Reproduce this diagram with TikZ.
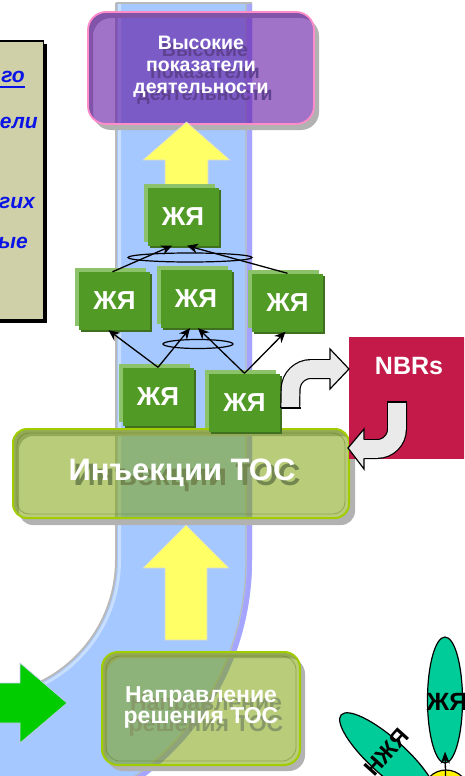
\documentclass[tikz,border=0pt]{standalone}
\usepackage{fontspec}
\setmainfont{Liberation Sans}
\usetikzlibrary{calc,shadows,arrows.meta,shapes.geometric}
\definecolor{pipe}{RGB}{164,200,255}
\definecolor{pipeedge}{RGB}{165,165,255}
\definecolor{purp}{RGB}{97,20,163}
\definecolor{pinkb}{RGB}{255,140,200}
\definecolor{purpshadow}{RGB}{95,65,145}
\definecolor{ljgreen}{RGB}{125,162,13}
\definecolor{ygreen}{RGB}{160,204,0}
\definecolor{injshadow}{RGB}{115,135,80}
\definecolor{dirshadow}{RGB}{135,152,105}
\definecolor{jgreen}{RGB}{82,154,38}
\definecolor{jlight}{RGB}{140,194,106}
\definecolor{jdark}{RGB}{62,112,32}
\definecolor{nbrc}{RGB}{196,26,74}
\definecolor{yarrow}{RGB}{255,255,102}
\definecolor{garrowc}{RGB}{234,234,234}
\definecolor{beige}{RGB}{208,208,168}
\definecolor{btext}{RGB}{10,20,230}
\definecolor{petal}{RGB}{0,204,153}
\definecolor{greenarr}{RGB}{0,204,0}
\tikzset{
  jbox/.style={fill=jgreen, text=white, font=\bfseries\fontsize{26}{28}\selectfont,
    inner sep=0, minimum width=71, minimum height=58,
    general shadow={fill=jlight, shadow xshift=-4pt, shadow yshift=4pt},
    general shadow={fill=jdark, shadow xshift=2pt, shadow yshift=-2pt}},
  tocbox/.style={draw=ygreen, line width=2, fill=ljgreen, fill opacity=0.55, inner sep=0},
  link/.style={-{Stealth[length=11pt,width=10pt]}, line width=1.3},
  bentband/.style={line width=1.2, double=garrowc, double distance=17.6, rounded corners=20},
  yarr/.style={fill=yarrow, draw=black!15, line width=0.6},
  paneltext/.style={text=btext, font=\bfseries\itshape\fontsize{21}{24}\selectfont, inner sep=0, anchor=base east},
  whitebig/.style={text=white, font=\bfseries\fontsize{31}{34}\selectfont},
}
\begin{document}
\begin{tikzpicture}[x=1pt, y=-1pt]
\useasboundingbox (0,0) rectangle (464,776);
\clip (0,0) rectangle (464,776);

% left panel
\fill[black] (-10,44) rectangle (47,323);
\filldraw[fill=beige, draw=black, line width=1.2] (-10,41) rectangle (43.5,320);
\node[paneltext] at (25,82) {го};
\draw[btext, line width=1.2] (0,87) -- (25,87);
\node[paneltext] at (38,128) {тели};
\node[paneltext] at (35,208) {угих};
\node[paneltext] at (28,248) {ые};

% pipe
\fill[pipe] (116,3) -- (116,560) .. controls (116,635.1) and (55.1,696) .. (-20,696)
  -- (-20,832) .. controls (130.2,832) and (252,710.2) .. (252,560) -- (252,3) -- cycle;
\draw[white, opacity=0.4, line width=3] (119.5,3) -- (119.5,560) .. controls (119.5,637) and (57,699.5) .. (-20,699.5);
\draw[gray!55, line width=2] (116,3) -- (116,560) .. controls (116,635.1) and (55.1,696) .. (-20,696);
\draw[pipeedge, line width=5] (249.5,3) -- (249.5,560) .. controls (249.5,708.8) and (128.8,829.5) .. (-20,829.5);
\draw[gray!55, line width=1.2] (246,3) -- (246,560) .. controls (246,706.9) and (126.9,826) .. (-20,826);
\draw[gray!55, line width=1.5] (116,3) -- (252,3);

% green arrow
\filldraw[fill=greenarr, draw=blue!20, line width=0.6] (-5,683) -- (20,683) -- (20,663) -- (67,703) -- (20,743) -- (20,723) -- (-5,723) -- cycle;

% top purple box
\fill[gray!60, even odd rule, rounded corners=18] (93,18) rectangle (319,130) (88,12) rectangle (314,124);
\node[draw=pinkb, line width=1.8, fill=purp, fill opacity=0.6, rounded corners=18,
  minimum width=226, minimum height=112, inner sep=0] (hi) at (201,68) {};
\node[text=purpshadow, font=\bfseries\fontsize{19.5}{22}\selectfont, align=center]
  at ($(hi.center)+(4,6)$) {Высокие\\показатели\\деятельности};
\node[text=white, font=\bfseries\fontsize{19.5}{22}\selectfont, align=center]
  at ($(hi.center)+(0,-1)$) {Высокие\\показатели\\деятельности};

% top yellow arrow
\filldraw[yarr] (165,192) -- (165,160) -- (143,160) -- (186.5,122) -- (230,160) -- (208,160) -- (208,192) -- cycle;

% injections box
\fill[gray!60, even odd rule, rounded corners=14] (19,436) rectangle (355,525) (13,429) rectangle (349,518);
\node[tocbox, rounded corners=14, minimum width=336, minimum height=89] (inj) at (181,473.5) {};
\draw[rounded corners=12, draw=ljgreen!60!black, opacity=0.35, line width=0.8] (17,433) rectangle (345,514);
\node[whitebig, text=injshadow, anchor=base] at (187,485) {Инъекции ТОС};
\node[whitebig, anchor=base] at (182,480) {Инъекции ТОС};

% NBRs
\node[fill=nbrc, minimum width=126, minimum height=122, anchor=north west, inner sep=0] (nbr) at (349,337) {};
\node[text=white, font=\bfseries\fontsize{25}{28}\selectfont, anchor=base] at (409,374) {NBRs};

% JY boxes
\node[jbox] (j1) at (183,216.5) {ЖЯ};
\node[jbox] (j2) at (114.5,301) {ЖЯ};
\node[jbox] (j3) at (196,299) {ЖЯ};
\node[jbox] (j4) at (287.5,302.5) {ЖЯ};
\node[jbox] (j5) at (158,396.5) {ЖЯ};
\node[jbox] (j6) at (244.5,402.5) {ЖЯ};

\draw[line width=1.2] (190,257.5) ellipse [x radius=62, y radius=4.5];
\draw[line width=1.2] (198,344) ellipse [x radius=35, y radius=4.5];
\draw[link] (j5.north) -- ([xshift=-6pt]j2.south);
\draw[link] (j5.north) -- ([xshift=-6pt]j3.south);
\draw[link] (j6.north) -- ([xshift=2pt]j3.south);
\draw[link] (j6.north) -- ([xshift=-2pt]j4.south);
\draw[link] ([xshift=-2pt]j2.north) -- ([xshift=-11pt]j1.south);
\draw[link] (j4.north) -- ([xshift=4pt]j1.south);

% bent arrow JY -> NBRs
\coordinate (aS) at ($(j6.east)+(10,5.5)$);
\coordinate (aT) at ($(nbr.north west)+(0,32)$);
\draw[bentband] (aS) -- (291,369) -- (331,369);
\draw[line width=1.2] (281,408) -- (301,408);
\filldraw[fill=garrowc, line width=1.2] (330,359.6) -- (330,349) -- (aT) -- (330,389) -- (330,378.4);

% bent arrow NBRs -> injections
\coordinate (bS) at ($(nbr.south west)+(48,-57)$);
\coordinate (bT) at ($(inj.north east)+(-2,20)$);
\draw[bentband] (bS) -- (397,449) -- (363,449);
\draw[line width=1.2] (387,402) -- (407,402);
\filldraw[fill=garrowc, line width=1.2] (364,439.6) -- (364,429) -- (bT) -- (364,469) -- (364,458.4);

% bottom yellow arrow
\filldraw[yarr] (165,640) -- (165,568) -- (143,568) -- (186,525) -- (229,568) -- (207,568) -- (207,640) -- cycle;

% direction box
\fill[gray!60, even odd rule, rounded corners=16] (107,658) rectangle (305,771) (102,652) rectangle (300,765);
\node[tocbox, rounded corners=16, minimum width=198, minimum height=113] (dir) at (201,708.5) {};
\draw[rounded corners=14, draw=ljgreen!60!black, opacity=0.35, line width=0.8] (106,656) rectangle (296,761);
\node[text=dirshadow, font=\bfseries\fontsize{23}{20}\selectfont, align=center] at ($(dir.center)+(5,7)$) {Направление\\решения ТОС};
\node[text=white, font=\bfseries\fontsize{23}{20}\selectfont, align=center] at ($(dir.center)+(0,-1)$) {Направление\\решения ТОС};

% flower
\node[ellipse, draw, line width=1.2, fill=petal, minimum width=126, minimum height=36, inner sep=0, rotate=-42] (p2) at (388,757) {};
\node[rotate=48, font=\bfseries\fontsize{23}{26}\selectfont] at (387,752) {НЖЯ};
\node[ellipse, draw, line width=1.2, fill=petal, minimum width=35, minimum height=126, inner sep=0] (p1) at (445,700) {};
\node[font=\bfseries\fontsize{25}{26}\selectfont] at (447,702) {ЖЯ};
\node[circle, draw, line width=1.2, fill=yellow, minimum size=46, inner sep=0] (fc) at (446,793) {};
\draw[-{Stealth[length=12pt,width=9pt]}, line width=1.3] (fc.center) -- ([yshift=12pt]p1.south);
\end{tikzpicture}
\end{document}
